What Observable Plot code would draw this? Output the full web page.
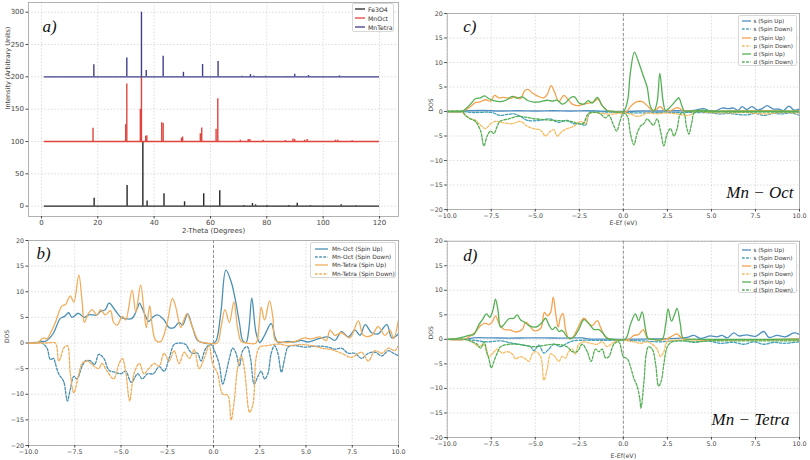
<!DOCTYPE html>
<html><head><meta charset="utf-8">
<script src="https://cdn.jsdelivr.net/npm/d3@7"></script>
<script src="https://cdn.jsdelivr.net/npm/@observablehq/plot@0.6"></script>
<style>
body{margin:0;background:#fff;}
#root{position:relative;width:810px;height:460px;overflow:hidden;font-family:"DejaVu Sans",sans-serif;background:#fff;}
.panel{position:absolute;}
.leg{position:absolute;background:rgba(255,255,255,0.92);border:1px solid #d8d8d8;border-radius:2px;color:#333;box-sizing:border-box;white-space:nowrap;}
.row{display:flex;align-items:center;}
.row svg{flex:none;}
</style></head>
<body><div id="root"></div>
<script>
// ---------- tick labels ----------
const xrdXTicks = [0, 20, 40, 60, 80, 100, 120];
const xrdYTicks = [0, 50, 100, 150, 200, 250, 300];
const dosXTicks = [-10, -7.5, -5, -2.5, 0, 2.5, 5, 7.5, 10];
const dosYTicks = [-20, -15, -10, -5, 0, 5, 10, 15, 20];

// ---------- panel a: XRD peaks [2θ, height] ----------
const xrdRange = [1, 120];
const xrdNames = ["Fe3O4", "MnOct", "MnTetra"];
const xrdBases = [0, 100, 200];
const fe3o4Peaks = [[18.7,12.4],[30.4,32],[36.0,100],[37.5,8],[43.5,19],[50.8,6.7],[57.6,19],[63.3,24],[71.8,1],[74.9,4],[76.0,2],[80.1,1],[87.8,1],[90.8,4.6],[95.5,1],[106.4,2],[111.6,0.8]];
const mnOctPeaks = [[18.3,20.6],[29.9,26],[30.3,89],[35.1,50],[35.5,100],[37.0,8],[37.4,9],[42.7,29],[43.2,28],[49.7,5],[50.1,7],[56.4,12],[56.9,21],[62.0,19],[62.6,66],[70.6,2],[73.4,3],[74.0,3],[78.7,2],[86.6,1.5],[89.3,4],[89.9,3],[93.4,2],[94.3,3],[104.4,2],[105.2,2],[110.3,1]];
const mnTetraPeaks = [[18.6,18.6],[30.3,29],[35.5,100],[37.2,10],[43.2,32],[50.4,7],[57.2,19],[62.7,23.7],[71.2,1],[74.2,3.5],[75.4,1.5],[79.5,1],[87.2,0.5],[89.9,4],[94.8,2],[105.8,1.5],[111.0,0.5]];

// ---------- panel b: Mn-Oct / Mn-Tetra total DOS [E-Ef, DOS] ----------
const octUp = [[-10,0],[-9.5,0.1],[-9.3,0.3],[-9.1,0.3],[-8.9,0.8],[-8.64,2],[-8.28,4.8],[-8.05,5.2],[-7.83,5.9],[-7.65,5.0],[-7.3,5.8],[-7.0,5.0],[-6.74,5.5],[-6.3,5.5],[-6.1,6.2],[-5.85,6.5],[-5.65,7.8],[-5.3,6.3],[-5.0,5.0],[-4.84,4.8],[-4.4,4.8],[-4.1,7.0],[-4.0,7.8],[-3.76,6.0],[-3.5,4.2],[-3.3,5.0],[-3.03,5.5],[-2.67,4.5],[-2.4,3.0],[-2.13,3.0],[-1.86,4.0],[-1.67,3.5],[-1.4,5.7],[-1.13,3.0],[-0.86,0.5],[-0.5,0],[0,0],[0.15,0.5],[0.4,6],[0.67,14.2],[0.95,12],[1.15,9],[1.4,4],[1.58,0.5],[1.76,0.1],[1.92,3],[2.07,8.8],[2.3,2],[2.5,0.1],[2.76,1.5],[3.12,3.8],[3.34,1.0],[3.5,0.1],[4.0,0.3],[4.4,0.2],[4.75,0.5],[5.1,0.2],[5.65,0.8],[6.2,1.2],[6.56,0.5],[6.92,2.2],[7.28,1.2],[7.65,2.5],[7.92,1.5],[8.2,3.6],[8.55,2.0],[8.9,1.8],[9.37,3.6],[9.64,1.0],[10,1.8]];
const octDown = [[-10,0],[-9.3,0],[-9.0,-1],[-8.82,-3.2],[-8.64,-3.0],[-8.55,-4],[-8.37,-6],[-8.1,-7.5],[-7.9,-11.3],[-7.74,-9],[-7.55,-6.5],[-7.38,-7],[-7.1,-4.5],[-6.92,-3.5],[-6.65,-3.5],[-6.43,-4.2],[-6.2,-2.2],[-5.93,-3.0],[-5.65,-5.3],[-5.3,-5.7],[-5.0,-6.0],[-4.75,-5.5],[-4.44,-7.7],[-4.1,-6.0],[-3.85,-7.0],[-3.57,-6.0],[-3.25,-6.0],[-2.94,-4.6],[-2.67,-5.5],[-2.4,-3.0],[-2.13,-0.3],[-1.86,0],[-1.5,-0.3],[-1.3,-1.5],[-1.13,-2.0],[-0.86,-2.0],[-0.68,-3.5],[-0.41,-1.0],[-0.14,-0.3],[0.05,-1.5],[0.3,-4],[0.5,-8],[0.67,-6],[0.86,-3],[1.04,-1],[1.22,-2.0],[1.4,-4.5],[1.58,-1.5],[1.82,-0.7],[2.0,-3.0],[2.2,-8],[2.4,-6.5],[2.58,-5.5],[2.76,-7.0],[2.94,-6.0],[3.12,-2],[3.3,-0.5],[3.48,-2],[3.67,-5.7],[3.85,-3],[4.03,-0.8],[4.4,-0.5],[4.93,-0.8],[5.65,-0.6],[6.2,-0.8],[6.56,-1.2],[6.92,-1.0],[7.28,-2.0],[7.65,-2.0],[8.0,-3.0],[8.37,-2.0],[8.73,-1.8],[9.1,-2.5],[9.46,-1.5],[9.73,-2.0],[10,-2.5]];
const tetraUp = [[-10,0],[-9.5,0.1],[-9.2,1.0],[-9.0,0.8],[-8.8,2],[-8.55,4],[-8.2,7.2],[-8.0,7.5],[-7.86,8.5],[-7.74,9.2],[-7.55,8.0],[-7.28,13.3],[-7.1,8],[-6.98,4],[-6.8,5.5],[-6.56,6.5],[-6.3,5.5],[-6.1,6.5],[-5.85,5.5],[-5.57,6.3],[-5.4,4],[-5.2,3.5],[-4.93,5.2],[-4.75,4.5],[-4.4,10.3],[-4.2,6],[-3.94,11.3],[-3.76,6.5],[-3.63,3],[-3.45,7.3],[-3.3,3],[-3.12,0.5],[-2.85,0.3],[-2.5,4],[-2.22,8.7],[-2.04,7],[-1.77,3.0],[-1.6,4.5],[-1.44,5.7],[-1.13,3],[-0.78,0.3],[-0.4,0],[0.2,0],[0.4,3],[0.62,6.5],[0.86,4.0],[1.1,8.0],[1.3,3],[1.5,0.3],[1.8,0],[2.3,0],[2.45,3],[2.58,7.0],[2.76,4.5],[3.03,8.2],[3.21,5],[3.34,0.5],[3.6,0.2],[4.0,0.1],[4.4,0.3],[4.93,1.0],[5.2,0.8],[5.48,1.0],[5.75,1.2],[6.1,0.5],[6.3,2.5],[6.56,1.5],[6.92,2.0],[7.37,1.0],[7.83,4.3],[8.1,1.5],[8.55,1.5],[8.9,3.2],[9.27,1.5],[9.55,2.5],[9.73,0.8],[10,4.5]];
const tetraDown = [[-10,0],[-9,0],[-8.55,0],[-8.37,-3.5],[-8.28,-3],[-8.1,-1],[-7.9,-0.5],[-7.74,-6],[-7.55,-9.7],[-7.28,-6],[-7.1,-4],[-6.83,-3.5],[-6.47,-4.5],[-6.2,-5.0],[-6.03,-4.0],[-5.75,-5.5],[-5.4,-7.0],[-5.1,-4],[-4.93,-3],[-4.75,-5.5],[-4.53,-11.3],[-4.3,-6],[-4.0,-4],[-3.76,-6],[-3.5,-5.0],[-3.2,-4],[-2.94,-4.5],[-2.67,-2.0],[-2.4,-3.5],[-2.13,-1.5],[-1.86,-4.0],[-1.58,-1.8],[-1.3,-3.0],[-1.04,-1.3],[-0.78,-5.0],[-0.5,-3],[-0.24,-0.5],[-0.05,-4.0],[0.22,-6],[0.5,-10],[0.77,-10.2],[0.95,-15.0],[1.13,-11],[1.3,-5],[1.5,-2.5],[1.67,-5],[1.95,-13.5],[2.13,-12],[2.3,-3],[2.5,-0.8],[2.94,-0.5],[3.48,-0.2],[4.03,-0.5],[4.75,-0.3],[5.3,-0.5],[5.84,-1.0],[6.38,-1.3],[6.92,-2.0],[7.46,-2.8],[8.0,-1.8],[8.37,-3.5],[8.73,-1.5],[9.1,-2],[9.46,-1],[9.8,-1.5],[10,-0.5]];

// ---------- panel c: Mn-Oct projected DOS ----------
const cSUp = [[-10,0],[-9.2,0],[-9,0.1],[-8,0.2],[-7,0.1],[-6,0.15],[-5,0.1],[-4,0.15],[-3,0.1],[-2,0.15],[-1,0.05],[0,0],[1,0.1],[2,0.1],[3,0.15],[4,0.2],[4.57,0.6],[4.9,0.1],[5.3,0.2],[5.6,0.7],[6.0,0.6],[6.27,0.7],[6.5,0.2],[6.75,1.0],[7.0,0.4],[7.3,1.0],[7.6,0.3],[7.88,0.6],[8.16,1.2],[8.5,0.5],[8.83,0.5],[9.1,0.2],[9.4,1.1],[9.68,0.3],[10,0.5]];
const cSDown = [[-10,0],[-9.2,0],[-8.5,-0.2],[-7.5,-0.2],[-6.97,-0.8],[-6.6,-0.6],[-6.2,-0.5],[-5.84,-1.0],[-5.46,-1.8],[-4.7,-1.8],[-4.2,-1.5],[-3.66,-2.2],[-3.19,-1.8],[-2.8,-2.5],[-2.43,-2.5],[-2.15,-2.8],[-2.0,-1.0],[-1.86,0],[-1,-0.1],[0,-0.2],[1,-0.3],[2,-0.2],[3,-0.2],[4,-0.2],[5,-0.3],[5.5,-0.5],[6,-0.4],[6.5,-0.6],[7,-0.7],[7.5,-0.4],[8,-0.8],[8.5,-0.4],[9,-0.5],[9.5,-0.3],[10,-0.8]];
const cPUp = [[-10,0],[-9.2,0],[-8.9,0.4],[-8.68,1.0],[-8.4,1.8],[-8.1,2.0],[-7.82,2.4],[-7.54,2.1],[-7.31,3.3],[-7.07,2.8],[-6.78,2.9],[-6.4,2.7],[-6.12,3.0],[-5.84,2.6],[-5.61,4.2],[-5.42,4.5],[-5.17,3.8],[-4.89,3.2],[-4.51,2.8],[-4.32,3.5],[-4.1,5.3],[-3.91,4.0],[-3.66,2.0],[-3.38,3.3],[-3.15,2.5],[-2.9,1.5],[-2.62,1.2],[-2.24,1.5],[-1.86,1.8],[-1.58,2.2],[-1.45,2.6],[-1.2,1.2],[-0.92,0.2],[-0.6,0],[0.2,0],[0.4,1],[0.78,2.0],[1.07,2.0],[1.35,1.2],[1.64,0.2],[1.85,0.4],[2.0,0.8],[2.11,1.0],[2.3,0.3],[2.68,0.2],[3.05,0.8],[3.24,0.5],[3.43,0.1],[4,0.1],[5,0.05],[6,0.1],[7,0.1],[8,0.15],[9,0.1],[10,0.1]];
const cPDown = [[-10,0],[-9.2,0],[-9.05,-0.5],[-8.77,-1.3],[-8.4,-1.8],[-8.1,-2.8],[-7.82,-3.5],[-7.54,-2.5],[-7.26,-2.0],[-6.78,-2.3],[-6.3,-2.5],[-5.84,-2.0],[-5.46,-3.0],[-5.08,-3.5],[-4.7,-3.8],[-4.42,-5.0],[-4.13,-4.0],[-3.94,-3.7],[-3.76,-5.0],[-3.47,-4.0],[-3.19,-3.5],[-2.8,-3.0],[-2.43,-2.0],[-2.15,-2.5],[-1.96,-0.5],[-1.67,-0.2],[-0.92,-0.5],[-0.53,-0.5],[0,-0.3],[0.4,-0.5],[0.78,-1.0],[1.07,-0.8],[1.35,-0.3],[1.92,-0.5],[2.3,-0.3],[3.05,-0.5],[3.6,-0.8],[3.9,-0.5],[4.0,-0.1],[5,-0.2],[6,-0.3],[7,-0.2],[8,-0.5],[9,-0.2],[10,-0.3]];
const cDUp = [[-10,0],[-9.2,0],[-8.96,0.5],[-8.68,1.5],[-8.4,2.6],[-8.1,2.8],[-7.88,3.2],[-7.63,2.6],[-7.35,2.2],[-6.97,2.0],[-6.6,2.4],[-6.3,3.1],[-6.03,2.7],[-5.74,3.0],[-5.46,2.3],[-5.08,1.9],[-4.7,2.0],[-4.32,2.3],[-4.04,2.1],[-3.76,2.3],[-3.47,1.5],[-3.28,1.8],[-3.0,2.8],[-2.77,3.0],[-2.53,1.8],[-2.24,1.5],[-2.0,2.2],[-1.77,1.7],[-1.48,2.9],[-1.2,1.2],[-0.92,0.2],[-0.6,0],[0,0],[0.23,2],[0.4,8],[0.63,12.1],[0.87,10],[1.16,7],[1.35,5],[1.54,1],[1.73,0.1],[1.92,2],[2.07,7.8],[2.26,2],[2.4,0.2],[2.68,1.0],[3.05,2.5],[3.15,2.8],[3.34,1.0],[3.47,0.1],[4.0,0.1],[4.38,0.3],[4.95,0.1],[6,0.05],[8,0.05],[10,0.05]];
const cDDown = [[-10,0],[-9.15,0],[-8.96,-0.8],[-8.68,-1.5],[-8.4,-2.0],[-8.1,-4.0],[-7.92,-7.0],[-7.73,-5.0],[-7.54,-4.0],[-7.35,-4.5],[-7.16,-3.0],[-7.0,-2.0],[-6.5,-1.5],[-6.0,-1.0],[-5.0,-1.5],[-4.0,-1.8],[-3.0,-2.0],[-2.3,-2.5],[-2.0,-0.5],[-1.5,-0.2],[-1.3,-0.5],[-1.0,-1.3],[-0.83,-0.8],[-0.53,-3.0],[-0.38,-4.0],[-0.19,-2.0],[0,-0.3],[0.23,-1],[0.4,-4.5],[0.6,-6.8],[0.78,-4.5],[0.97,-3.0],[1.16,-2.5],[1.35,-1.5],[1.5,-2.0],[1.7,-2.8],[1.92,-1.5],[2.11,-4.0],[2.3,-7.0],[2.49,-4.5],[2.68,-3.5],[2.87,-5.0],[3.05,-3.5],[3.24,-0.5],[3.43,-0.3],[3.58,-3.0],[3.72,-4.6],[3.9,-2.0],[4.04,-0.2],[5,-0.1],[6,-0.1],[8,-0.1],[10,-0.1]];

// ---------- panel d: Mn-Tetra projected DOS ----------
const dSUp = [[-10,0],[-9,0],[-8.5,0.3],[-7.5,0.3],[-6.5,0.25],[-5.5,0.3],[-4.5,0.3],[-3.5,0.25],[-2.5,0.3],[-2.3,0.3],[-2,0.1],[-1,0.05],[0,0],[1,0.05],[2,0.1],[3,0.2],[3.62,0.4],[4.0,0.8],[4.38,0.2],[4.95,0.7],[5.3,0.5],[5.6,0.8],[5.9,0.3],[6.27,1.3],[6.56,0.7],[7.0,0.9],[7.5,0.6],[7.98,1.6],[8.26,0.4],[8.73,0.8],[9.2,0.5],[9.68,1.3],[10,1.0]];
const dSDown = [[-10,0],[-9,0],[-8.49,-0.2],[-7.73,-0.5],[-6.97,-0.3],[-6.4,-0.7],[-5.65,-1.2],[-5.27,-1.5],[-5.08,-2.3],[-4.8,-1.2],[-4.51,-2.8],[-4.23,-2.0],[-3.94,-1.0],[-3.57,-1.5],[-3.19,-0.8],[-2.8,-0.3],[-1.3,-0.2],[0,-0.2],[1.0,-0.3],[2.1,-0.5],[2.87,-0.3],[3.5,-0.3],[4.0,-0.6],[4.76,-0.3],[5.52,-0.8],[6.27,-0.6],[6.84,-1.0],[7.4,-0.5],[7.98,-1.0],[8.54,-0.6],[9.1,-0.8],[10,-0.5]];
const dPUp = [[-10,0],[-9,0],[-8.77,0.5],[-8.4,1.5],[-8.1,2.8],[-7.82,3.3],[-7.63,3.0],[-7.45,3.5],[-7.26,4.8],[-7.03,3.0],[-6.78,2.0],[-6.4,1.9],[-6.12,1.5],[-5.74,2.0],[-5.55,3.5],[-5.36,3.0],[-5.08,1.8],[-4.7,2.2],[-4.48,5.5],[-4.32,4.8],[-4.13,5.5],[-3.98,8.6],[-3.83,5.0],[-3.7,2.5],[-3.57,4.5],[-3.43,5.3],[-3.28,2.0],[-3.1,0.2],[-2.85,0.5],[-2.62,2.0],[-2.24,4.3],[-1.96,3.3],[-1.77,2.8],[-1.48,3.8],[-1.3,2.5],[-1.01,0.5],[-0.7,0],[0.3,0],[0.6,0.8],[0.87,1.0],[1.13,2.0],[1.35,0.3],[1.6,0],[2.4,0],[2.68,0.5],[3.05,1.1],[3.24,0.5],[3.5,0.1],[10,0.1]];
const dPDown = [[-10,0],[-9,0],[-8.58,-0.5],[-8.2,-1.5],[-8.0,-1.0],[-7.82,-1.5],[-7.63,-3.5],[-7.45,-3.0],[-7.16,-2.0],[-6.88,-2.8],[-6.6,-2.5],[-6.3,-3.0],[-6.12,-4.0],[-5.84,-3.5],[-5.55,-4.0],[-5.36,-4.5],[-5.17,-3.0],[-5.0,-2.5],[-4.7,-3.5],[-4.51,-8.3],[-4.32,-6.0],[-4.13,-3.0],[-3.94,-3.3],[-3.66,-4.5],[-3.47,-3.5],[-3.28,-3.8],[-3.1,-2.5],[-2.9,-2.0],[-2.72,-3.0],[-2.53,-1.0],[-2.24,-0.5],[-1.86,-0.8],[-1.48,-1.0],[-1.2,-0.5],[-0.92,-1.5],[-0.63,-0.8],[-0.35,-0.3],[0,-0.2],[0.6,-0.5],[1.0,-0.8],[1.35,-0.5],[1.64,-1.0],[1.92,-2.0],[2.11,-3.5],[2.3,-2.5],[2.49,-0.5],[3,-0.2],[10,-0.2]];
const dDUp = [[-10,0],[-9.53,0.1],[-9.05,0.5],[-8.77,0.8],[-8.49,1.0],[-8.2,3.0],[-8.0,4.0],[-7.77,5.2],[-7.58,4.5],[-7.4,6.0],[-7.26,8.2],[-7.12,6.0],[-6.97,2.5],[-6.78,3.0],[-6.5,4.2],[-6.22,4.3],[-6.03,5.0],[-5.84,4.0],[-5.61,3.5],[-5.36,2.8],[-5.08,2.5],[-4.89,2.6],[-4.6,3.5],[-4.42,4.3],[-4.23,3.0],[-4.04,2.0],[-3.85,2.5],[-3.66,1.6],[-3.5,1.8],[-3.38,1.5],[-3.19,0.5],[-3.0,0.1],[-2.8,0.5],[-2.53,2],[-2.24,4.0],[-1.96,3.2],[-1.67,2.0],[-1.39,2.0],[-1.1,1.0],[-0.92,0.2],[-0.6,0],[0.1,0],[0.4,3],[0.68,5.2],[0.87,3.8],[1.07,5.6],[1.26,2],[1.4,0.2],[1.7,0],[2.2,0],[2.4,3],[2.54,6.2],[2.73,3.7],[2.9,5],[3.05,6.3],[3.24,3],[3.4,0.2],[4,0.05],[10,0.05]];
const dDDown = [[-10,0],[-9,0],[-8.58,-0.5],[-8.3,-1.0],[-8.1,-1.8],[-7.9,-0.5],[-7.77,-2.5],[-7.63,-4.0],[-7.5,-5.8],[-7.3,-4.0],[-7.12,-2.5],[-6.97,-1.5],[-6.5,-1.0],[-6,-1.0],[-5,-1.5],[-4,-1.0],[-3.2,-1.5],[-2.9,-2.5],[-2.62,-2.5],[-2.34,-1.0],[-2.05,-2.5],[-1.83,-4.5],[-1.58,-2.0],[-1.39,-2.5],[-1.2,-2.0],[-1.01,-3.8],[-0.82,-3.5],[-0.54,-1.0],[-0.26,-0.5],[0,-3.5],[0.23,-4.0],[0.4,-5.5],[0.6,-8.0],[0.78,-9.5],[0.93,-12.0],[1.0,-14.0],[1.16,-9],[1.3,-3],[1.43,-1.5],[1.64,-2.0],[1.83,-5.0],[2.0,-9.5],[2.15,-8.5],[2.3,-5],[2.5,-1.5],[2.77,-0.5],[3.43,-0.3],[4.0,-0.5],[5,-0.3],[6,-0.3],[8,-0.3],[10,-0.3]];

// ---------- colours ----------
const xrdColors = ["#262626", "#e0443c", "#3f3f8a"];
const octColor = "#4a90b2", tetraColor = "#f0ad5c";
const sColor = "#4f8fc0", sDownColor = "#45a0b8", pColor = "#f5a24e", pDownColor = "#f7bd62", dColor = "#55b055";

const root = document.getElementById("root");
const fmt1 = d3.format(".1f"), fmt0 = d3.format("d");
const gridStyle = {stroke: "#c4c4c4", strokeOpacity: 1, strokeWidth: 0.6, strokeDasharray: "1.5,1.8"};

function place(el, left, top) {
  const w = document.createElement("div");
  w.className = "panel"; w.style.left = left + "px"; w.style.top = top + "px";
  w.appendChild(el); root.appendChild(w);
}

function legend({left, top, width, height, padTop, rowH, swL, swW, gap, fontSize, items}) {
  const div = document.createElement("div");
  div.className = "leg";
  Object.assign(div.style, {left: left + "px", top: top + "px", width: width + "px", height: height + "px", paddingTop: padTop + "px", fontSize: fontSize + "px"});
  for (const it of items) {
    const r = document.createElement("div");
    r.className = "row"; r.style.height = rowH + "px"; r.style.paddingLeft = swL + "px";
    r.innerHTML = `<svg width="${swW}" height="4"><line x1="0" x2="${swW}" y1="2" y2="2" stroke="${it.color}" stroke-width="1.3" ${it.dash ? 'stroke-dasharray="2.6,1.6"' : ""}/></svg><span style="margin-left:${gap}px">${it.label}</span>`;
    div.appendChild(r);
  }
  root.appendChild(div);
}

// ---------- panel a ----------
{
  const allPeaks = [fe3o4Peaks, mnOctPeaks, mnTetraPeaks];
  const marks = [
    Plot.gridX(xrdXTicks, gridStyle),
    Plot.gridY(xrdYTicks, gridStyle)
  ];
  allPeaks.forEach((pk, i) => {
    const base = xrdBases[i];
    marks.push(Plot.ruleY([base], {x1: xrdRange[0], x2: xrdRange[1], stroke: xrdColors[i], strokeWidth: 1.3}));
    marks.push(Plot.ruleX(pk, {x: d => d[0], y1: base, y2: d => base + d[1], stroke: xrdColors[i], strokeWidth: 1.4}));
  });
  marks.push(
    Plot.frame({stroke: "#a0a0a0", strokeWidth: 0.8}),
    Plot.axisX(xrdXTicks, {tickFormat: fmt0, tickSize: 2.5, tickPadding: 1.5, fontSize: 7, color: "#444", label: null}),
    Plot.axisY(xrdYTicks, {tickFormat: fmt0, tickSize: 2.5, tickPadding: 2, fontSize: 7, color: "#444", label: null}),
    Plot.text(["2-Theta (Degrees)"], {frameAnchor: "bottom", dy: 14, text: d => d, fontSize: 7, fill: "#444", lineAnchor: "middle"}),
    Plot.text(["Intensity (Arbitrary Units)"], {frameAnchor: "left", dx: -21, rotate: -90, text: d => d, fontSize: 6.5, fill: "#444", lineAnchor: "middle"}),
    Plot.text(["a)"], {frameAnchor: "top-left", dx: 14, dy: 24, text: d => d, fontFamily: "Liberation Serif", fontStyle: "italic", fontSize: 17, fill: "#111", textAnchor: "start", lineAnchor: "middle"})
  );
  const p = Plot.plot({
    width: 400, height: 236, marginLeft: 28, marginRight: 2, marginTop: 2, marginBottom: 20,
    x: {domain: [-4.6, 126.75]}, y: {domain: [-16, 315]},
    style: {fontFamily: "DejaVu Sans", background: "transparent", overflow: "visible"},
    marks
  });
  place(p, 0, 0);
  legend({left: 352, top: 3, width: 42, height: 29, padTop: 0.5, rowH: 9, swL: 2, swW: 10, gap: 3, fontSize: 6.2,
    items: xrdNames.map((n, i) => ({label: n, color: xrdColors[i], dash: false}))});
}

// ---------- DOS panel helper ----------
function dosPanel({series, left, top, width, height, ml, mr, mt, mb, xlabel, xlabelDy, ylabelDx, tag, tagDx, tagDy, name, nameDx, nameDy}) {
  const marks = [
    Plot.gridX(dosXTicks, gridStyle),
    Plot.gridY(dosYTicks, gridStyle),
    Plot.ruleX([0], {stroke: "#7a7a7a", strokeWidth: 0.8, strokeDasharray: "3,2"}),
    ...series.map(s => Plot.line(s.data, {x: d => d[0], y: d => d[1], stroke: s.color, strokeWidth: 1.3,
      strokeDasharray: s.dash ? "2.6,1.6" : null, curve: "catmull-rom", clip: true})),
    Plot.frame({stroke: "#a0a0a0", strokeWidth: 0.8}),
    Plot.axisX(dosXTicks, {tickFormat: fmt1, tickSize: 2.5, tickPadding: 1.5, fontSize: 6.3, color: "#444", label: null}),
    Plot.axisY(dosYTicks, {tickFormat: fmt0, tickSize: 2.5, tickPadding: 2, fontSize: 6.3, color: "#444", label: null}),
    Plot.text(["DOS"], {frameAnchor: "left", dx: ylabelDx, rotate: -90, text: d => d, fontSize: 6, fill: "#444", lineAnchor: "middle"}),
    Plot.text([tag], {frameAnchor: "top-left", dx: tagDx, dy: tagDy, text: d => d, fontFamily: "Liberation Serif", fontStyle: "italic", fontSize: 17, fill: "#111", textAnchor: "start", lineAnchor: "middle"})
  ];
  if (xlabel) marks.push(Plot.text([xlabel], {frameAnchor: "bottom", dy: xlabelDy, text: d => d, fontSize: 6.3, fill: "#444", lineAnchor: "middle"}));
  if (name) marks.push(Plot.text([name], {frameAnchor: "bottom-right", dx: nameDx, dy: nameDy, text: d => d, fontFamily: "Liberation Serif", fontStyle: "italic", fontSize: 17, fill: "#111", textAnchor: "end", lineAnchor: "middle"}));
  const p = Plot.plot({
    width, height, marginLeft: ml, marginRight: mr, marginTop: mt, marginBottom: mb,
    x: {domain: [-10, 10]}, y: {domain: [-20, 20]},
    style: {fontFamily: "DejaVu Sans", background: "transparent", overflow: "visible"},
    marks
  });
  place(p, left, top);
}

// ---------- panel b ----------
const bSeries = [
  {label: "Mn-Oct (Spin Up)", data: octUp, color: octColor, dash: false},
  {label: "Mn-Oct (Spin Down)", data: octDown, color: octColor, dash: true},
  {label: "Mn-Tetra (Spin Up)", data: tetraUp, color: tetraColor, dash: false},
  {label: "Mn-Tetra (Spin Down)", data: tetraDown, color: tetraColor, dash: true}
];
dosPanel({series: bSeries, left: 0, top: 230, width: 400, height: 230, ml: 28, mr: 2, mt: 10, mb: 15,
  xlabel: null, ylabelDx: -21, tag: "b)", tagDx: 8, tagDy: 13});
legend({left: 310, top: 242, width: 86, height: 36, padTop: 1.5, rowH: 8.33, swL: 4, swW: 13, gap: 4, fontSize: 5.9,
  items: bSeries});

// ---------- panels c, d ----------
function pdosSeries(su, sd, pu, pd, du, dd) {
  return [
    {label: "s (Spin Up)", data: su, color: sColor, dash: false},
    {label: "s (Spin Down)", data: sd, color: sDownColor, dash: true},
    {label: "p (Spin Up)", data: pu, color: pColor, dash: false},
    {label: "p (Spin Down)", data: pd, color: pDownColor, dash: true},
    {label: "d (Spin Up)", data: du, color: dColor, dash: false},
    {label: "d (Spin Down)", data: dd, color: dColor, dash: true}
  ];
}
const cSeries = pdosSeries(cSUp, cSDown, cPUp, cPDown, cDUp, cDDown);
const dSeries = pdosSeries(dSUp, dSDown, dPUp, dPDown, dDUp, dDDown);

dosPanel({series: cSeries, left: 405, top: 0, width: 405, height: 230, ml: 41.7, mr: 11, mt: 13, mb: 21,
  xlabel: "E-Ef (eV)", xlabelDy: 13, ylabelDx: -15.7, tag: "c)", tagDx: 16, tagDy: 13,
  name: "Mn \u2212 Oct", nameDx: -6, nameDy: -17});
legend({left: 738, top: 15, width: 59, height: 51, padTop: 1, rowH: 8.27, swL: 3, swW: 9, gap: 2.5, fontSize: 5.6,
  items: cSeries});

dosPanel({series: dSeries, left: 405, top: 230, width: 405, height: 230, ml: 41.7, mr: 11, mt: 10.7, mb: 23,
  xlabel: "E-Ef(eV)", xlabelDy: 18, ylabelDx: -15.7, tag: "d)", tagDx: 16, tagDy: 14,
  name: "Mn \u2212 Tetra", nameDx: -10, nameDy: -18});
legend({left: 738, top: 243, width: 59, height: 50, padTop: 1.8, rowH: 8.07, swL: 3, swW: 9, gap: 2.5, fontSize: 5.6,
  items: dSeries});
</script>
</body></html>
